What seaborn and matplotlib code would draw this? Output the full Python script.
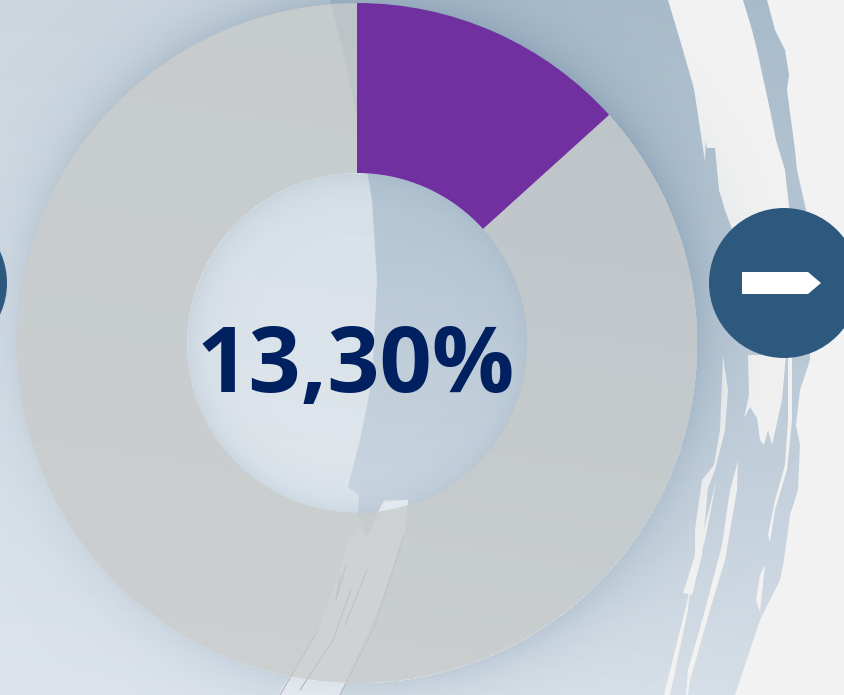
import numpy as np
import pandas as pd
import matplotlib
matplotlib.use("Agg")
import matplotlib.pyplot as plt
from matplotlib.patches import Circle, Polygon
from matplotlib.colors import LinearSegmentedColormap
import seaborn as sns

# chart data
labels = ["Share", "Rest"]
shares = [13.30, 86.70]
df = pd.DataFrame({"label": labels, "share": shares})
ring_colors = sns.color_palette(["#7030A0", "#C5C7C6"])

W, H = 844, 695

# decoration outlines, pixels of the reference
brush_edge = [(0, 0), (767, 0), (775, 30), (785, 50), (789, 75), (787, 90), (795, 150), (797, 170),
              (806, 210), (810, 360), (800, 390), (796, 425), (800, 445), (798, 490), (790, 515),
              (784, 560), (780, 580), (760, 620), (735, 695), (0, 695)]
gaps = [
    [(668, 0), (743, 0), (752, 30), (757, 50), (770, 110), (776, 140), (785, 170), (790, 215),
     (760, 225), (736, 240), (725, 210), (719, 190), (715, 148), (707, 148), (700, 115), (693, 85), (680, 40)],
    [(693, 82), (699, 92), (706, 135), (705, 162), (701, 135)],
    [(748, 355), (786, 355), (782, 400), (772, 445), (768, 430), (764, 445), (760, 440),
     (757, 418), (750, 407), (744, 418), (749, 395)],
    [(788, 357), (792, 357), (792, 420), (787, 470), (775, 510), (770, 542), (768, 535),
     (775, 500), (785, 465), (788, 420)],
    [(723, 355), (728, 390), (725, 430), (715, 470), (708, 488), (703, 540), (702, 555),
     (692, 595), (683, 593), (695, 555), (695, 530), (702, 480), (714, 465), (720, 430)],
    [(717, 478), (705, 540), (690, 590), (688, 610), (670, 695), (664, 695), (685, 610), (700, 545)],
    [(738, 461), (737, 490), (725, 560), (710, 610), (690, 680), (688, 695), (686, 695),
     (688, 670), (705, 610), (722, 545), (730, 490)],
    [(765, 565), (760, 612), (756, 600), (760, 575)],
]
light_edge = [(0, 0), (330, 0), (345, 60), (360, 130), (372, 200), (377, 280), (372, 380), (360, 440),
              (348, 487), (359, 495), (358, 512), (367, 538), (379, 510), (384, 500), (408, 500),
              (405, 535), (378, 610), (340, 695), (278, 695), (0, 695)]
tail_edge = [(384, 502), (408, 500), (405, 535), (378, 610), (340, 695), (278, 695), (320, 625),
             (338, 575), (347, 545), (358, 525), (367, 538), (379, 510)]
arrow_pts = [(742, 272), (808, 272), (821, 283), (808, 294), (742, 294)]
streaks = [[(340, 575), (336, 600), (346, 565)], [(351, 590), (333, 640), (300, 690)],
           [(404, 535), (375, 625), (340, 695)], [(367, 570), (345, 625)], [(318, 630), (280, 695)]]

sns.set_theme(style="white")
fig = plt.figure(figsize=(W / 100, H / 100), dpi=100, facecolor="#F2F2F2")
bg = fig.add_axes([0, 0, 1, 1])

yy, xx = np.mgrid[0:H, 0:W]
blue_map = LinearSegmentedColormap.from_list("blue", ["#A8BBCA", "#B6C6D4", "#C8D4DF", "#DFE6EC"])
light_map = LinearSegmentedColormap.from_list("light", ["#C9D4DD", "#D2DCE5", "#DDE4EB"])
grad = (yy + 0.15 * (W - xx)) / (H + 0.15 * W)

im = bg.imshow(grad, cmap=blue_map, extent=(0, W, H, 0), aspect="auto", zorder=1)
im.set_clip_path(Polygon(brush_edge, transform=bg.transData))
for g in gaps:
    bg.add_patch(Polygon(g, fc="#F2F2F2", ec="none", zorder=2))
im2 = bg.imshow(grad, cmap=light_map, extent=(0, W, H, 0), aspect="auto", zorder=3)
im2.set_clip_path(Polygon(light_edge, transform=bg.transData))
lift = Circle((357, 343), 170, fc="white", ec="none", alpha=0.22, zorder=3.5)
bg.add_patch(lift)
lift.set_clip_path(Polygon(light_edge, transform=bg.transData))

# soft glow round the ring, stronger to the upper right
r = np.hypot(xx - 357, yy - 343)
side = np.clip(0.42 + xx / W, 0, 1) * np.clip(1.2 - yy / H, 0.5, 1)
glow = np.where(r > 340, 0.55 * side * np.exp(-(r - 340) / 26), 0.0)
glow = np.where(r < 170, 0.18 * np.exp(-(170 - r) / 16), glow)
rgba = np.zeros((H, W, 4))
rgba[..., :3] = matplotlib.colors.to_rgb("#7D96AB")
rgba[..., 3] = glow
im3 = bg.imshow(rgba, extent=(0, W, H, 0), aspect="auto", zorder=4)
im3.set_clip_path(Polygon(brush_edge, transform=bg.transData))

bg.add_patch(Polygon(tail_edge, fc="white", ec="none", alpha=0.4, zorder=4.5))
for s in streaks:
    bg.plot(*zip(*s), color="#AEB8C0", lw=0.8, zorder=5)
bg.set_xlim(0, W)
bg.set_ylim(H, 0)
bg.axis("off")

# ring
ax = fig.add_axes([17 / W, 1 - 683 / H, 680 / W, 680 / H])
wedges, _ = ax.pie(df["share"], colors=ring_colors, startangle=90, counterclock=False, radius=1,
                   wedgeprops={"width": 0.5, "linewidth": 0})
wedges[1].set_alpha(0.7)
ax.set_xlim(-1, 1)
ax.set_ylim(-1, 1)
ax.patch.set_alpha(0)

# buttons on top
top = fig.add_axes([0, 0, 1, 1])
top.patch.set_alpha(0)
top.add_patch(Circle((784, 283), 75, fc="#2D597F", ec="none"))
top.add_patch(Circle((-68, 283), 75, fc="#2D597F", ec="none"))
top.add_patch(Polygon(arrow_pts, fc="white", ec="none"))
top.text(356, 392, f"{shares[0]:.2f}%".replace(".", ","), ha="center", va="baseline",
         fontsize=66, fontweight="bold", family="Open Sans", color="#002060")
top.set_xlim(0, W)
top.set_ylim(H, 0)
top.axis("off")

fig.savefig("out.png", dpi=100, facecolor=fig.get_facecolor())
